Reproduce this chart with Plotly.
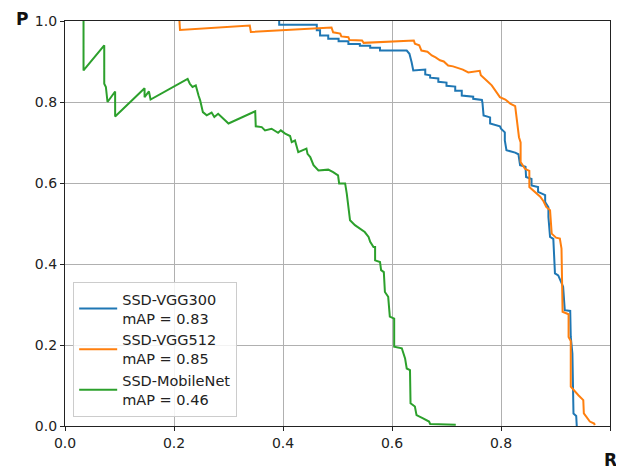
import plotly.graph_objects as go

# ---- data ----
tick_vals = [0.0, 0.2, 0.4, 0.6, 0.8, 1.0]
tick_text = ["0.0", "0.2", "0.4", "0.6", "0.8", "1.0"]

series_names = ["SSD-VGG300<br>mAP = 0.83", "SSD-VGG512<br>mAP = 0.85", "SSD-MobileNet<br>mAP = 0.46"]
series_colors = ["#1f77b4", "#ff7f0e", "#2ca02c"]

vgg300_recall = [0.393, 0.393, 0.462, 0.462, 0.468, 0.468, 0.483, 0.483, 0.502, 0.502, 0.520, 0.520,
                 0.541, 0.541, 0.560, 0.560, 0.578, 0.578, 0.627, 0.632, 0.636, 0.639, 0.661, 0.661,
                 0.670, 0.670, 0.685, 0.685, 0.700, 0.700, 0.716, 0.716, 0.728, 0.728, 0.749, 0.749,
                 0.765, 0.766, 0.768, 0.780, 0.780, 0.798, 0.800, 0.807, 0.807, 0.810, 0.826, 0.832,
                 0.835, 0.845, 0.846, 0.856, 0.856, 0.868, 0.868, 0.881, 0.881, 0.887, 0.887, 0.890,
                 0.896, 0.899, 0.905, 0.911, 0.914, 0.917, 0.927, 0.928, 0.931, 0.933, 0.938, 0.939]
vgg300_precision = [1.000, 0.991, 0.991, 0.977, 0.977, 0.964, 0.964, 0.956, 0.956, 0.950, 0.950, 0.943,
                    0.943, 0.939, 0.939, 0.934, 0.934, 0.927, 0.927, 0.919, 0.898, 0.878, 0.880, 0.868,
                    0.866, 0.860, 0.858, 0.850, 0.848, 0.840, 0.838, 0.828, 0.828, 0.816, 0.813, 0.808,
                    0.805, 0.798, 0.767, 0.762, 0.747, 0.740, 0.734, 0.725, 0.705, 0.681, 0.675, 0.671,
                    0.644, 0.640, 0.615, 0.610, 0.594, 0.590, 0.578, 0.570, 0.553, 0.540, 0.516, 0.467,
                    0.462, 0.377, 0.372, 0.356, 0.344, 0.286, 0.284, 0.220, 0.179, 0.031, 0.025, 0.000]

vgg512_recall = [0.210, 0.211, 0.339, 0.341, 0.489, 0.492, 0.505, 0.507, 0.520, 0.522, 0.545, 0.548,
                 0.640, 0.642, 0.650, 0.654, 0.665, 0.673, 0.680, 0.688, 0.695, 0.703, 0.712, 0.722,
                 0.730, 0.740, 0.761, 0.763, 0.771, 0.776, 0.783, 0.790, 0.798, 0.808, 0.817, 0.826,
                 0.829, 0.833, 0.836, 0.836, 0.844, 0.852, 0.852, 0.862, 0.872, 0.878, 0.883, 0.890,
                 0.893, 0.901, 0.908, 0.911, 0.913, 0.913, 0.924, 0.924, 0.928, 0.928, 0.942, 0.951,
                 0.952, 0.963, 0.971, 0.972]
vgg512_precision = [1.000, 0.978, 0.989, 0.973, 0.984, 0.972, 0.969, 0.962, 0.960, 0.953, 0.952, 0.946,
                    0.952, 0.944, 0.940, 0.927, 0.924, 0.915, 0.910, 0.903, 0.900, 0.890, 0.888, 0.884,
                    0.880, 0.873, 0.877, 0.866, 0.857, 0.850, 0.841, 0.828, 0.812, 0.806, 0.796, 0.790,
                    0.755, 0.713, 0.700, 0.652, 0.635, 0.630, 0.590, 0.578, 0.566, 0.555, 0.541, 0.533,
                    0.475, 0.465, 0.463, 0.438, 0.344, 0.282, 0.276, 0.220, 0.210, 0.097, 0.076, 0.064,
                    0.031, 0.011, 0.006, 0.002]

mobilenet_recall = [0.034, 0.034, 0.072, 0.072, 0.075, 0.078, 0.092, 0.092, 0.146, 0.146, 0.154, 0.157,
                    0.225, 0.229, 0.234, 0.240, 0.245, 0.248, 0.253, 0.260, 0.269, 0.274, 0.281, 0.287,
                    0.300, 0.349, 0.350, 0.361, 0.367, 0.379, 0.391, 0.396, 0.404, 0.413, 0.416, 0.422,
                    0.425, 0.428, 0.443, 0.445, 0.450, 0.456, 0.465, 0.475, 0.483, 0.492, 0.501, 0.503,
                    0.514, 0.517, 0.520, 0.523, 0.532, 0.541, 0.550, 0.557, 0.560, 0.566, 0.569, 0.569,
                    0.578, 0.580, 0.585, 0.587, 0.593, 0.596, 0.604, 0.604, 0.618, 0.624, 0.627, 0.633,
                    0.634, 0.642, 0.645, 0.657, 0.668, 0.670, 0.717]
mobilenet_precision = [1.000, 0.878, 0.940, 0.845, 0.837, 0.800, 0.826, 0.764, 0.834, 0.812, 0.826, 0.806,
                       0.857, 0.845, 0.837, 0.841, 0.816, 0.804, 0.775, 0.767, 0.774, 0.763, 0.771, 0.763,
                       0.747, 0.777, 0.740, 0.738, 0.730, 0.734, 0.724, 0.730, 0.722, 0.716, 0.701, 0.705,
                       0.693, 0.676, 0.685, 0.672, 0.664, 0.644, 0.631, 0.633, 0.633, 0.627, 0.619, 0.599,
                       0.599, 0.574, 0.541, 0.508, 0.496, 0.488, 0.479, 0.467, 0.455, 0.442, 0.442, 0.409,
                       0.405, 0.385, 0.380, 0.331, 0.319, 0.270, 0.265, 0.196, 0.192, 0.167, 0.142, 0.138,
                       0.056, 0.048, 0.027, 0.019, 0.011, 0.005, 0.003]

recalls = [vgg300_recall, vgg512_recall, mobilenet_recall]
precisions = [vgg300_precision, vgg512_precision, mobilenet_precision]

FONT = "DejaVu Sans"

fig = go.Figure()
for name, color, rx, py in zip(series_names, series_colors, recalls, precisions):
    fig.add_trace(go.Scatter(x=rx, y=py, mode="lines", name=name,
                             line=dict(color=color, width=2)))

axis_common = dict(
    range=[0, 1], tickvals=tick_vals, ticktext=tick_text,
    showgrid=True, gridcolor="#b0b0b0", gridwidth=1,
    showline=True, linecolor="#222222", linewidth=1.2, mirror=True,
    ticks="outside", ticklen=4, tickcolor="#222222",
    tickfont=dict(family=FONT, size=14, color="#222222"),
    zeroline=False, fixedrange=True,
)

# The page body has an 8px margin, so the figure is offset by 8px.
fig.update_layout(
    width=608, height=463,
    margin=dict(l=57, r=6, t=13, b=45),
    paper_bgcolor="white", plot_bgcolor="white",
    font=dict(family=FONT, color="#222222"),
    xaxis=axis_common, yaxis=axis_common,
    showlegend=True,
    legend=dict(x=0.015, y=0.022, xanchor="left", yanchor="bottom",
                bgcolor="rgba(255,255,255,0.85)", bordercolor="#cccccc", borderwidth=1,
                font=dict(family=FONT, size=14.5, color="#222222"),
                tracegroupgap=0, itemwidth=38),
    annotations=[
        dict(text="<b>P</b>", xref="paper", yref="paper", x=-0.078, y=1.005,
             showarrow=False, font=dict(family=FONT, size=17, color="#111111"),
             xanchor="center", yanchor="middle"),
        dict(text="<b>R</b>", xref="paper", yref="paper", x=1.0, y=-0.084,
             showarrow=False, font=dict(family=FONT, size=17, color="#111111"),
             xanchor="center", yanchor="middle"),
    ],
)

fig.write_html("out.html")
